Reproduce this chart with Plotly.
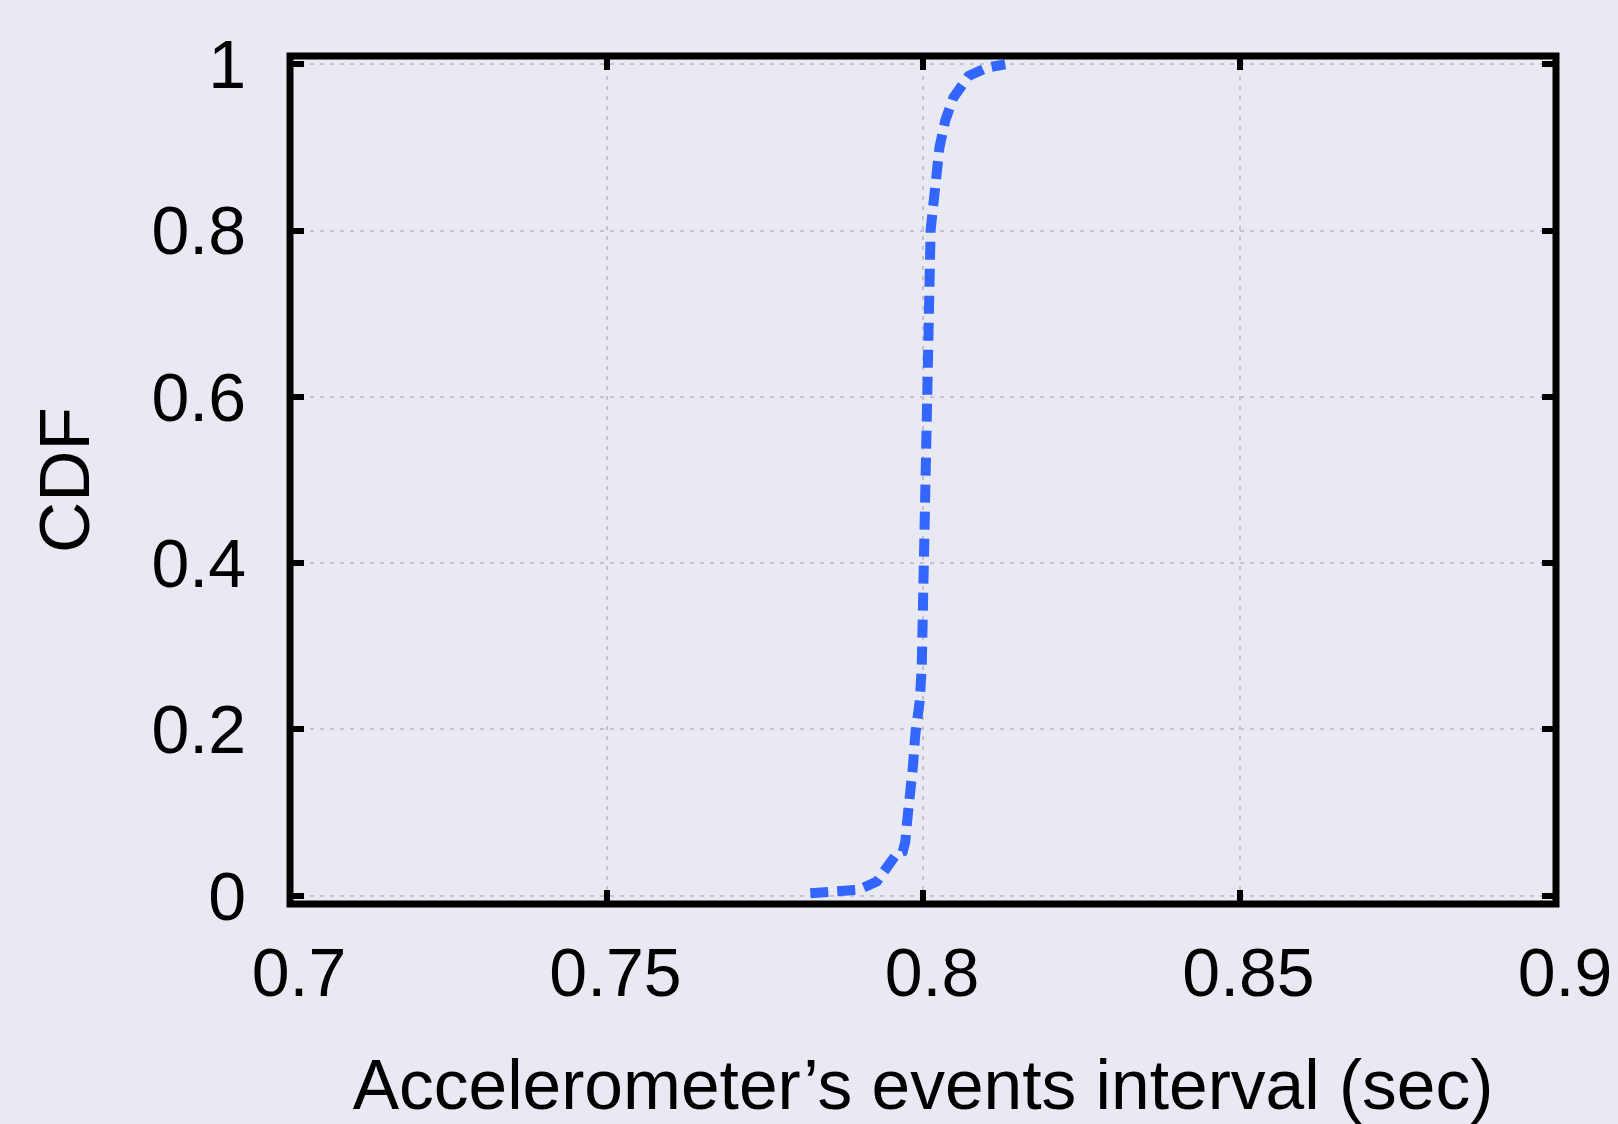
import plotly.graph_objects as go

# Data
interval_sec = [0.7822, 0.7853, 0.7898, 0.7927, 0.7948, 0.7958, 0.7968, 0.7972, 0.7975,
                0.7980, 0.7984, 0.7988, 0.7991, 0.7995, 0.7998, 0.8000, 0.8001, 0.8003,
                0.8004, 0.8006, 0.8009, 0.8012, 0.8017, 0.8021, 0.8026, 0.8035, 0.8048,
                0.8072, 0.8101, 0.8130]
cdf_values = [0.003, 0.004, 0.007, 0.017, 0.039, 0.050, 0.053, 0.065, 0.090,
              0.115, 0.155, 0.195, 0.210, 0.235, 0.275, 0.355, 0.400, 0.500,
              0.600, 0.688, 0.768, 0.800, 0.836, 0.868, 0.900, 0.932, 0.960,
              0.986, 0.996, 1.000]

x_ticks = [0.7, 0.75, 0.8, 0.85, 0.9]
x_tick_labels = ["0.7", "0.75", "0.8", "0.85", "0.9"]
y_ticks = [0, 0.2, 0.4, 0.6, 0.8, 1]
y_tick_labels = ["0", "0.2", "0.4", "0.6", "0.8", "1"]

x_title = "Accelerometer’s events interval (sec)"
y_title = "CDF"

BG = "#e9e9f3"
FONT = "Liberation Sans, Arial, Helvetica, sans-serif"

fig = go.Figure()
fig.add_trace(go.Scatter(
    x=interval_sec, y=cdf_values, mode="lines",
    line=dict(color="#3366ff", width=10, dash="18px,9px"),
    showlegend=False,
))

axis_common = dict(
    showline=False, zeroline=False, mirror="ticks",
    ticks="inside", ticklen=14, tickwidth=6, tickcolor="black",
    showgrid=True, gridcolor="#c2c2c8", gridwidth=2, griddash="4px,6px",
    tickfont=dict(family=FONT, size=68, color="black"),
)

fig.update_xaxes(
    range=[0.7, 0.9], tickvals=x_ticks, ticktext=x_tick_labels,
    title=dict(text=x_title, font=dict(family=FONT, size=69.5, color="black"), standoff=54),
    ticklabelshift=9, ticklabelstandoff=23,
    **axis_common,
)
fig.update_yaxes(
    range=[-0.01, 1.01], tickvals=y_ticks, ticktext=y_tick_labels,
    title=dict(text=y_title, font=dict(family=FONT, size=71, color="black"), standoff=38),
    ticklabelstandoff=43,
    **axis_common,
)

fig.add_shape(type="rect", xref="paper", yref="paper", x0=0, x1=1, y0=0, y1=1,
              line=dict(color="black", width=7), layer="above")

fig.update_layout(
    width=1618, height=1124,
    margin=dict(l=290, r=62, t=56, b=220, autoexpand=False),
    paper_bgcolor=BG, plot_bgcolor=BG,
    font=dict(family=FONT, color="black"),
)

fig.write_html(
    "out.html",
    config={"displayModeBar": False},
    post_script="document.body.style.margin='0';document.body.style.padding='0';"
                "document.body.style.background='#e9e9f3';",
)
